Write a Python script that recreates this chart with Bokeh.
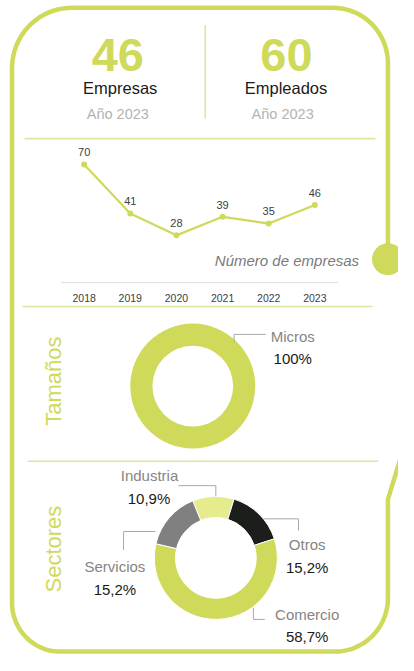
import numpy as np
from bokeh.plotting import figure
from bokeh.models import Range1d
from bokeh.core.properties import value
from bokeh.embed import file_html
from bokeh.resources import INLINE

# ---------------- data ----------------
kpi_numbers = ["46", "60"]
kpi_names = ["Empresas", "Empleados"]
kpi_years = ["Año 2023", "Año 2023"]

years = [2018, 2019, 2020, 2021, 2022, 2023]
empresas = [70, 41, 28, 39, 35, 46]
line_title = "Número de empresas"

size_names = ["Micros"]
size_pcts = [100.0]
size_labels = ["100%"]

sector_names = ["Industria", "Otros", "Comercio", "Servicios"]
sector_pcts = [10.9, 15.2, 58.7, 15.2]
sector_labels = ["10,9%", "15,2%", "58,7%", "15,2%"]

section_titles = ["Tamaños", "Sectores"]

# ---------------- style ----------------
GREEN = "#cfd95a"
LIGHT = "#dfe59f"
PALE = "#e6ec8e"
DARK = "#1c1e1c"
MID = "#808080"
TXT = "#1a1a1a"
LBL = "#858585"
SUB = "#b3b3b3"
LEAD = "#a8a8a8"
FONT = value("Liberation Sans")

W, H = 398, 655
CW, CH = 414.0, 671.0     # layout canvas units mapped onto the figure

p = figure(width=W, height=H, output_backend="svg", toolbar_location=None,
           x_range=Range1d(0, CW), y_range=Range1d(-CH, 0),
           x_axis_location=None, y_axis_location=None, min_border=0,
           outline_line_color=None, background_fill_color="white",
           border_fill_color="white")
p.grid.visible = False


def neg(v):
    return [-a for a in v]


# ---------------- frame ----------------
L, R, T, B = 12.0, 403.0, 7.5, 667.0


def arc(cx, cy, r, a0, a1, n=30):
    t = np.radians(np.linspace(a0, a1, n))
    return list(cx + r * np.cos(t)), list(cy + r * np.sin(t))


fx, fy = [R], [250.0]
for (cx, cy, r, a0, a1) in [(R - 57, T + 57, 57, 0, -90),
                            (L + 62, T + 62, 62, -90, -180),
                            (L + 50, B - 50, 50, 180, 90),
                            (R - 55, B - 55, 55, 90, 0)]:
    ax, ay = arc(cx, cy, r, a0, a1)
    fx += ax
    fy += ay
fx += [R, 417.0]
fy += [511.0, 466.0]
p.line(fx, neg(fy), line_color=GREEN, line_width=4.5, line_join="round")
p.circle(x=[R], y=[-265.0], radius=16.5, fill_color=GREEN, line_color=None)

# separators
p.segment(x0=[213, 25, 23, 28], y0=neg([25, 141.5, 313.5, 472]),
          x1=[213, 390, 387, 393], y1=neg([121, 141.5, 313.5, 472]),
          line_color=LIGHT, line_width=1.6)

# ---------------- KPIs ----------------
p.text(x=[122, 297.5], y=[-55.5, -55.5], text=kpi_numbers, text_font=FONT,
       text_font_style="bold", text_font_size="47px", text_color=GREEN,
       text_align="center", text_baseline="middle")
p.text(x=[124.5, 297], y=[-89.5, -89.5], text=kpi_names, text_font=FONT,
       text_font_size="16.5px", text_color=TXT, text_align="center",
       text_baseline="middle")
p.text(x=[122, 293.5], y=[-116.5, -116.5], text=kpi_years, text_font=FONT,
       text_font_size="14.5px", text_color=SUB, text_align="center",
       text_baseline="middle")

# ---------------- line chart ----------------
PX_YEAR = 48.0
X2018, Y_ZERO, Y_70 = 87.0, 289.0, 168.0
k = (Y_ZERO - Y_70) / 70.0
p.extra_x_ranges = {"yr": Range1d(years[0] - X2018 / PX_YEAR,
                                  years[0] + (CW - X2018) / PX_YEAR)}
p.extra_y_ranges = {"emp": Range1d(-(CH - Y_ZERO) / k, Y_ZERO / k)}
kw = dict(x_range_name="yr", y_range_name="emp")

p.segment(x0=[years[0] - 0.5], y0=[0], x1=[years[-1] + 0.5], y1=[0],
          line_color="#dcdcdc", line_width=1, **kw)
p.line(years, empresas, line_color=GREEN, line_width=2.2, **kw)
p.scatter(years, empresas, size=6, fill_color=GREEN, line_color=None, **kw)
p.text(x=years, y=[v + 12.5 / k for v in empresas], text=[str(v) for v in empresas],
       text_font=FONT, text_font_size="11px", text_color="#404040",
       text_align="center", text_baseline="middle", **kw)
p.text(x=years, y=[-15.5 / k] * len(years), text=[str(y) for y in years],
       text_font=FONT, text_font_size="10.5px", text_color="#404040",
       text_align="center", text_baseline="middle", **kw)
p.text(x=[373], y=[-266], text=[line_title], text_font=FONT, text_font_style="italic",
       text_font_size="15px", text_color="#7a7a7a", text_align="right",
       text_baseline="middle")


# ---------------- donuts ----------------
def donut(cx, cy, r_in, r_out, pcts, colors, start_deg):
    total = float(sum(pcts))
    if len(pcts) == 1:
        p.annulus(x=[cx], y=[-cy], inner_radius=r_in, outer_radius=r_out,
                  fill_color=colors[0], line_color=None)
        return
    cum = np.concatenate([[0.0], np.cumsum(pcts)]) / total * 360.0 + start_deg
    starts = list(np.radians(90.0 - cum[:-1]))
    ends = list(np.radians(90.0 - cum[1:]))
    p.annular_wedge(x=[cx] * len(pcts), y=[-cy] * len(pcts), inner_radius=r_in,
                    outer_radius=r_out, start_angle=starts, end_angle=ends,
                    direction="clock", fill_color=colors, line_color="white",
                    line_width=1)


donut(200, 395, 42, 65, size_pcts, [GREEN], 0)
donut(224, 571, 42, 64, sector_pcts, [PALE, DARK, GREEN, MID], -22)

# labels
p.text(x=[304], y=[-344.5], text=size_names, text_font=FONT, text_font_size="15px",
       text_color=LBL, text_align="center", text_baseline="middle")
p.text(x=[304], y=[-367], text=size_labels, text_font=FONT, text_font_size="15px",
       text_color=TXT, text_align="center", text_baseline="middle")

name_xy = [(155, 487), (319, 557), (319, 628.5), (119, 580)]
val_xy = [(154.5, 510.5), (319, 581), (319, 652), (119, 603.5)]
p.text(x=[a for a, b in name_xy], y=[-b for a, b in name_xy], text=sector_names,
       text_font=FONT, text_font_size="15px", text_color=LBL,
       text_align="center", text_baseline="middle")
p.text(x=[a for a, b in val_xy], y=[-b for a, b in val_xy], text=sector_labels,
       text_font=FONT, text_font_size="15px", text_color=TXT,
       text_align="center", text_baseline="middle")

leaders = [[(243, 350), (243, 342), (276, 342)],
           [(185, 497), (224, 497), (224, 508)],
           [(274, 531), (310, 531), (310, 543)],
           [(263, 622), (263, 634), (275, 634)],
           [(161, 544), (128, 544), (128, 563)]]
p.multi_line(xs=[[a for a, b in l] for l in leaders],
             ys=[[-b for a, b in l] for l in leaders],
             line_color=LEAD, line_width=1)

# section titles
p.text(x=[55, 55], y=[-390, -562], text=section_titles, angle=np.pi / 2,
       text_font=FONT, text_font_size="22px", text_color=GREEN,
       text_align="center", text_baseline="middle")

open("out.html", "w").write(file_html(p, INLINE))
